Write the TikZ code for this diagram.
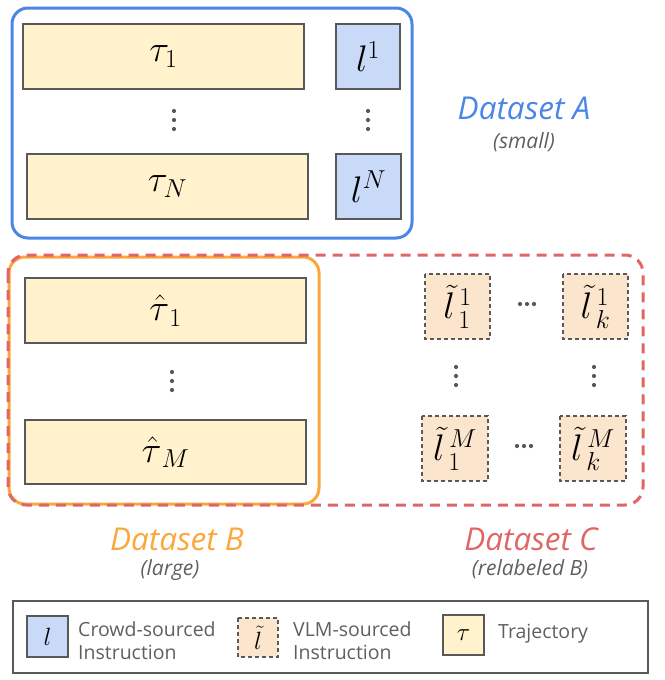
\RequirePackage{fix-cm}
\documentclass[tikz,border=0pt]{standalone}
\usepackage{fontspec}
\setmainfont{Open Sans}
\definecolor{cblue}{HTML}{4A86E8}
\definecolor{corange}{HTML}{FBA73E}
\definecolor{cred}{HTML}{E06666}
\definecolor{fyellow}{HTML}{FFF2CC}
\definecolor{fblue}{HTML}{C9DAF8}
\definecolor{fpeach}{HTML}{FCE5CD}
\definecolor{cgray}{HTML}{595959}
\definecolor{tgray}{HTML}{5F5F5F}
\begin{document}
\begin{tikzpicture}[x=1pt,y=-1pt,
  trajbox/.style={draw=cgray,line width=1.4pt,fill=fyellow},
  crowdbox/.style={draw=cgray,line width=1.4pt,fill=fblue},
  vlmbox/.style={draw=cgray,line width=1.4pt,fill=fpeach,dash pattern=on 4pt off 3pt},
  mathlbl/.style={font=\fontsize{37}{44}\selectfont,inner sep=0pt},
  dsname/.style={font=\fontsize{31.5}{36}\selectfont\itshape,anchor=base},
  dssub/.style={font=\fontsize{21}{25}\selectfont\itshape,text=tgray,anchor=base},
  legtext/.style={font=\fontsize{19.5}{23}\selectfont,text=tgray,align=left,anchor=west,inner sep=0pt},
  dotc/.style={fill=cgray,draw=none}]
\useasboundingbox (0,0) rectangle (664,680);
% Dataset A
\draw[cblue,line width=3pt,rounded corners=16pt] (12,8) rectangle (412,238);
\draw[trajbox] (23,24) rectangle (304,89);
\node[mathlbl] (t1) at (163.5,56.5) {$\tau_1$};
\draw[crowdbox] (336,24) rectangle (400,89);
\node[mathlbl] (l1) at (368,56.5) {$l^1$};
\draw[trajbox] (27,154) rectangle (308,219);
\node[mathlbl] (tN) at (167.5,186.5) {$\tau_N$};
\draw[crowdbox] (336,154) rectangle (401,219);
\node[mathlbl] (lN) at (368.5,186.5) {$l^N$};
\foreach \x in {174,368}{\foreach \y in {111,120,129}{\fill[dotc] (\x,\y) circle (2.1pt);}}
\node[dsname,text=cblue] (dsA) at (524,119) {Dataset A};
\node[dssub] (dsAs) at (524,148) {(small)};
% Dataset B
\draw[corange,line width=3pt,rounded corners=16pt] (9,257) rectangle (319,504);
\draw[trajbox] (25,278) rectangle (306,343);
\node[mathlbl] (th1) at (165.5,310.5) {${\hat{\tau}}_{\,1}$};
\draw[trajbox] (25,420) rectangle (306,484);
\node[mathlbl] (thM) at (165.5,452) {${\hat{\tau}}_{\,M}$};
\foreach \y in {372,381,390}{\fill[dotc] (172,\y) circle (2.1pt);}
% Dataset C
\draw[cred,line width=3pt,rounded corners=18pt,dash pattern=on 10pt off 7pt] (8,255) rectangle (643,505);
\draw[vlmbox] (425,274) rectangle (490,339);
\node[mathlbl] (v11) at (457.5,306.5) {$\tilde{l}^{\,1}_{\,1}$};
\draw[vlmbox] (563,274) rectangle (628,339);
\node[mathlbl] (vk1) at (595.5,306.5) {$\tilde{l}^{\,1}_{\,k}$};
\draw[vlmbox] (422,416) rectangle (488,481);
\node[mathlbl] (v1M) at (455,448.5) {$\tilde{l}^{\,M}_{\,1}$};
\draw[vlmbox] (560,416) rectangle (626,481);
\node[mathlbl] (vkM) at (593,448.5) {$\tilde{l}^{\,M}_{\,k}$};
\foreach \x in {520,527,534}{\fill[dotc] (\x,304) circle (2.1pt);}
\foreach \x in {517,524,531}{\fill[dotc] (\x,446) circle (2.1pt);}
\foreach \x in {456,594}{\foreach \y in {367,376,385}{\fill[dotc] (\x,\y) circle (2.1pt);}}
\node[dsname,text=corange] (dsB) at (177,550) {Dataset B};
\node[dssub] (dsBs) at (170,575) {(large)};
\node[dsname,text=cred] (dsC) at (531,550) {Dataset C};
\node[dssub] (dsCs) at (530,575) {(relabeled B)};
% Legend
\draw[cgray,line width=1.4pt] (13,601) rectangle (648,673);
\draw[crowdbox] (27,616) rectangle (68,657);
\node[font=\fontsize{25}{30}\selectfont] (lg1) at (47.5,636.5) {$l$};
\node[legtext] (lt1) at (78,641) {Crowd-sourced\\Instruction};
\draw[vlmbox] (238,618) rectangle (278,657);
\node[font=\fontsize{25}{30}\selectfont] (lg2) at (258,637.5) {$\tilde{l}$};
\node[legtext] (lt2) at (293,641) {VLM-sourced\\Instruction};
\draw[trajbox] (443,615) rectangle (484,655);
\node[font=\fontsize{25}{30}\selectfont] (lg3) at (463.5,635) {$\tau$};
\node[legtext] (lt3) at (498,634) {Trajectory};
\end{tikzpicture}
\end{document}
